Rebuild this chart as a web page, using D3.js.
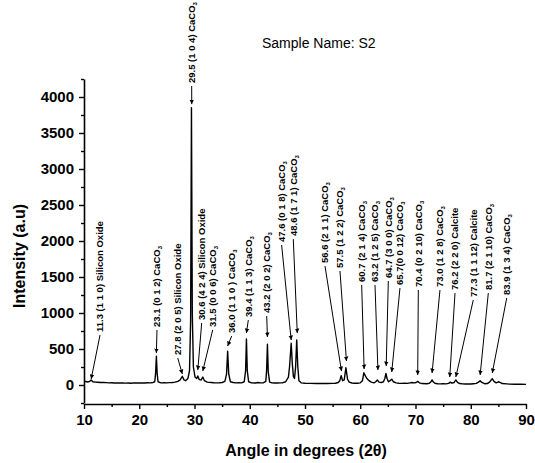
<!DOCTYPE html>
<html><head><meta charset="utf-8">
<script src="https://cdn.jsdelivr.net/npm/d3@7"></script>
<style>
html,body{margin:0;padding:0;background:#fff;}
svg{display:block;font-family:"Liberation Sans",Arial,sans-serif;}
</style></head>
<body><svg id="c" width="535" height="463"></svg>
<script>
// ---- data: XRD pattern (2θ, intensity) ----
const angles = [10.0,10.3,10.6,11.0,11.3,11.6,12.0,12.5,13.0,13.5,14.0,14.5,15.0,15.5,16.0,16.5,17.0,17.5,18.0,18.5,19.0,19.5,20.0,20.5,21.0,21.5,22.0,22.5,22.8,22.95,23.1,23.25,23.4,23.7,24.0,24.5,25.0,25.5,26.0,26.5,27.0,27.4,27.8,28.1,28.4,28.8,29.1,29.3,29.45,29.6,29.8,30.1,30.4,30.6,30.85,31.2,31.5,31.8,32.3,33.0,33.5,34.0,34.5,35.0,35.5,35.8,36.0,36.2,36.5,37.0,37.5,38.0,38.5,39.0,39.25,39.4,39.55,39.8,40.3,41.0,41.5,42.0,42.5,42.9,43.05,43.2,43.35,43.6,44.0,44.5,45.0,45.5,46.0,46.5,47.0,47.2,47.5,47.7,47.9,48.1,48.3,48.5,48.7,48.9,49.3,50.0,51.0,52.0,53.0,54.0,55.0,55.5,56.0,56.3,56.55,56.8,57.1,57.4,57.7,58.0,58.5,59.0,59.5,60.0,60.4,60.65,60.9,61.2,61.6,62.0,62.5,62.8,63.1,63.4,63.8,64.2,64.45,64.65,64.85,65.1,65.4,65.7,66.0,66.5,67.0,67.5,68.0,68.5,69.0,69.4,69.8,70.1,70.4,70.7,71.2,72.0,72.5,72.8,73.0,73.2,73.5,74.0,74.5,75.0,75.5,76.0,76.3,76.6,77.0,77.3,77.6,78.0,78.5,79.0,79.5,80.0,80.5,81.0,81.4,81.7,82.0,82.5,83.0,83.4,83.7,83.9,84.2,84.6,85.0,85.3,85.7,86.5,87.0,88.0,89.0,90.0];
const intensity = [45,50,42,48,70,45,40,38,35,36,33,30,32,28,30,27,29,26,28,25,30,27,28,30,28,32,30,35,45,150,400,150,45,35,30,32,30,33,35,40,50,70,120,70,60,90,200,900,3850,1000,250,110,90,125,75,70,110,60,40,35,32,30,32,35,50,150,470,150,45,35,30,32,30,45,200,640,200,45,30,28,35,30,32,50,200,565,180,40,30,28,27,30,32,45,110,250,580,300,120,90,250,625,250,60,30,25,22,20,22,20,22,25,35,60,130,60,70,240,80,40,28,25,25,30,60,170,130,90,60,40,30,45,70,40,35,45,90,160,90,45,60,80,45,30,25,22,25,22,30,35,30,35,50,30,20,18,25,45,70,45,25,18,15,18,15,22,40,25,35,70,35,20,15,14,16,14,18,22,40,60,35,18,20,40,70,88,50,30,45,35,20,15,12,10,12,8];

// ---- peak annotations ----
const peakLabels = ["11.3 (1 1 0) Silicon Oxide","23.1 (0 1 2) CaCO3","27.8 (2 0 5) Silicon Oxide","29.5 (1 0 4) CaCO3","30.6 (4 2 4) Silicon Oxide","31.5 (0 0 6) CaCO3","36.0 (1 1 0 ) CaCO3","39.4 (1 1 3) CaCO3","43.2 (2 0 2) CaCO3","47.6 (0 1 8) CaCO3","48.6 (1 7 1) CaCO3","56.6 (2 1 1) CaCO3","57.5 (1 2 2) CaCO3","60.7 (2 1 4) CaCO3","63.2 (1 2 5) CaCO3","64.7 (3 0 0) CaCO3","65.7(0 0 12) CaCO3","70.4 (0 2 10) CaCO3","73.0 (1 2 8) CaCO3","76.2 (2 2 0) Calcite","77.3 (1 1 12) Calcite","81.7 (2 1 10) CaCO3","83.9 (1 3 4) CaCO3"];
const peakAngles = [11.3,23.1,27.8,29.5,30.6,31.5,36.0,39.4,43.2,47.5,48.6,56.6,57.5,60.7,63.2,64.7,65.7,70.4,73.0,76.2,77.3,81.7,83.9];
const tipIntensity = [83,444,153,3900,208,194,542,722,667,625,722,194,333,222,208,264,180,139,167,111,111,139,167];
// label anchor (bottom of rotated text) in data units
const labelAngle = [12.9,23.21,26.96,29.49,31.30,33.29,36.73,39.74,43.07,45.77,47.88,53.62,56.33,60.26,62.67,65.08,67.19,70.51,74.43,77.15,80.46,83.18,86.51];
const labelIntensity = [736,806,417,4194,903,806,722,944,1000,1986,2069,1694,1625,1431,1431,1486,1389,1361,1361,1319,1222,1319,1250];

const xTicks = [10,20,30,40,50,60,70,80,90];
const yTicks = [0,500,1000,1500,2000,2500,3000,3500,4000];

// ---- drawing ----
const svg = d3.select("#c");
const x = d3.scaleLinear().domain([10,90]).range([84,526]);
const y = d3.scaleLinear().domain([-250,4250]).range([403,79]);

svg.append("defs").append("marker")
  .attr("id","ah").attr("viewBox","0 0 10 10").attr("refX",10).attr("refY",5)
  .attr("markerWidth",4.5).attr("markerHeight",7).attr("markerUnits","userSpaceOnUse")
  .attr("orient","auto")
  .append("path").attr("d","M0,0 L10,5 L0,10 z").attr("fill","#000");

// axes
const xAxis = d3.axisBottom(x).tickValues(xTicks).tickSize(5).tickPadding(5).tickFormat(d3.format("d"));
const xMinor = d3.axisBottom(x).tickValues(d3.range(15,90,10)).tickSize(3).tickFormat("");
const yAxis = d3.axisLeft(y).tickValues(yTicks).tickSize(5).tickPadding(5).tickFormat(d3.format("d"));
const yMinor = d3.axisLeft(y).tickValues([-250,250,750,1250,1750,2250,2750,3250,3750,4250]).tickSize(3).tickFormat("");

function style(g){
  g.select(".domain").attr("stroke","#000").attr("stroke-width",1.6);
  g.selectAll(".tick line").attr("stroke","#000").attr("stroke-width",1.4);
  g.selectAll("text").attr("font-size","15px").attr("font-weight","bold").attr("fill","#000")
   .attr("font-family","'Liberation Sans',Arial,sans-serif");
}
svg.append("g").attr("transform","translate(0,404)").call(xMinor).call(style).select(".domain").remove();
svg.append("g").attr("transform","translate(0,404)").call(xAxis.tickSizeOuter(0)).call(style);
svg.append("g").attr("transform","translate(84,0)").call(yMinor).call(style).select(".domain").remove();
svg.append("g").attr("transform","translate(84,0)").call(yAxis.tickSizeOuter(0)).call(style);

// line
const pts = angles.map((a,i)=>[a,intensity[i]]);
svg.append("path").datum(pts)
  .attr("d", d3.line().x(d=>x(d[0])).y(d=>y(d[1])))
  .attr("fill","none").attr("stroke","#000").attr("stroke-width",1.4).attr("stroke-linejoin","round");

// annotations
peakLabels.forEach((lab,i)=>{
  const lx = x(labelAngle[i]), ly = y(labelIntensity[i]);
  const tx = x(peakAngles[i]), ty = y(tipIntensity[i]);
  svg.append("line").attr("x1",lx).attr("y1",ly+3).attr("x2",tx).attr("y2",ty)
    .attr("stroke","#000").attr("stroke-width",1).attr("marker-end","url(#ah)");
  const t = svg.append("text")
    .attr("transform",`translate(${lx},${ly}) rotate(-90)`)
    .attr("dy","0.35em").attr("font-size","9.5px").attr("font-weight","bold").attr("fill","#000");
  if (lab.endsWith("CaCO3")) {
    t.append("tspan").text(lab.slice(0,-1));
    t.append("tspan").attr("font-size","6px").attr("dy","0.35em").text("3");
  } else {
    t.text(lab);
  }
});

// titles
svg.append("text").attr("x",262).attr("y",48).attr("font-size","14px").attr("fill","#000").text("Sample Name: S2");
svg.append("text").attr("x",306).attr("y",456).attr("text-anchor","middle")
  .attr("font-size","16px").attr("font-weight","bold").attr("fill","#000").text("Angle in degrees (2θ)");
svg.append("text").attr("transform","translate(25,256) rotate(-90)").attr("text-anchor","middle")
  .attr("font-size","16px").attr("font-weight","bold").attr("fill","#000").text("Intensity (a.u)");
</script></body></html>
